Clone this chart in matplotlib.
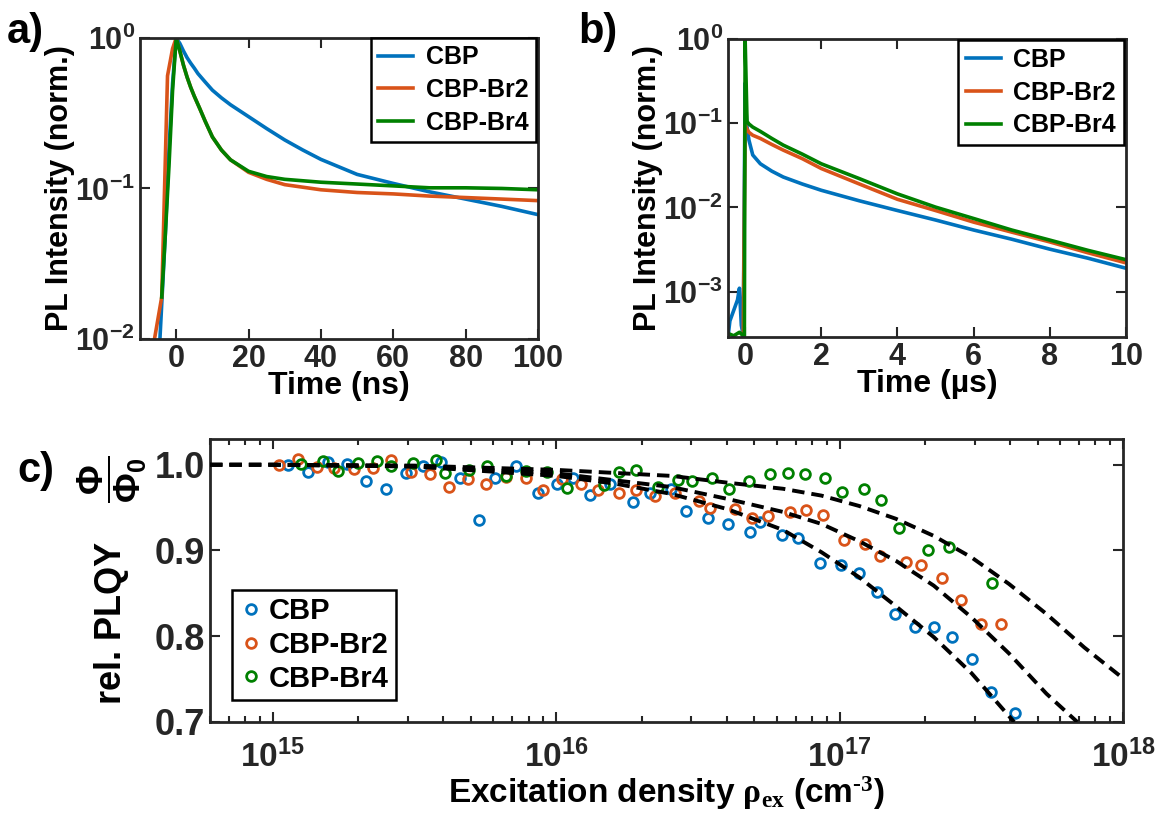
import matplotlib
matplotlib.use('Agg')
import matplotlib.pyplot as plt
from matplotlib.ticker import NullLocator, FixedLocator, FormatStrFormatter, LogLocator

# ---- panel a: short time PL decay (ns) ----
t_cbp_a = [-5, -4.5, -3, -2, -1, 0, 1, 2, 3, 4, 5, 6, 8, 10, 12.5, 15, 20, 25, 30, 35, 40, 50, 60, 70, 80,
           90, 100]
pl_cbp_a = [0.006, 0.01, 0.05, 0.18, 0.5, 1.0, 0.92, 0.82, 0.74, 0.68, 0.63, 0.58, 0.51, 0.45, 0.40, 0.36,
            0.30, 0.25, 0.21, 0.18, 0.156, 0.124, 0.108, 0.095, 0.085, 0.076, 0.067]
t_br2_a = [-6, -4, -2.4, -1, 0, 1, 2, 3, 4, 5, 6.5, 8, 10, 12.5, 15, 20, 25, 30, 40, 50, 60, 70, 80, 90, 100]
pl_br2_a = [0.01, 0.019, 0.56, 0.85, 1.0, 0.82, 0.66, 0.55, 0.47, 0.41, 0.34, 0.28, 0.22, 0.18, 0.155, 0.128,
            0.115, 0.106, 0.098, 0.094, 0.092, 0.089, 0.087, 0.085, 0.083]
t_br4_a = [-4, -3, -2, -1, 0, 1, 2, 3, 4, 5, 6.5, 8, 10, 12.5, 15, 20, 25, 30, 40, 50, 60, 70, 80, 90, 100]
pl_br4_a = [0.019, 0.05, 0.14, 0.45, 1.0, 0.82, 0.66, 0.55, 0.47, 0.41, 0.34, 0.28, 0.22, 0.18, 0.155, 0.13,
            0.12, 0.115, 0.11, 0.107, 0.104, 0.101, 0.101, 0.1, 0.098]

# ---- panel b: long time PL decay (us) ----
t_cbp_b = [-0.45, -0.4, -0.3, -0.2, -0.15, -0.1, -0.05, 0, 0.02, 0.05, 0.1, 0.2, 0.4, 0.7, 1, 1.5, 2, 3, 4, 5,
           6, 7, 8, 9, 10]
pl_cbp_b = [2.9e-4, 4.5e-4, 6e-4, 8e-4, 1.1e-3, 4e-4, 3e-4, 0.3, 0.15, 0.09, 0.063, 0.042, 0.033, 0.027, 0.023,
            0.019, 0.016, 0.012, 0.0092, 0.0071, 0.0054, 0.0042, 0.0032, 0.0025, 0.0019]
t_br2_b = [-0.05, 0, 0.05, 0.1, 0.2, 0.4, 0.7, 1, 1.5, 2, 3, 4, 5, 6, 7, 8, 9, 10]
pl_br2_b = [3e-4, 0.095, 0.085, 0.078, 0.072, 0.066, 0.056, 0.048, 0.038, 0.029, 0.019, 0.0125, 0.0092, 0.0067,
            0.0051, 0.0039, 0.0029, 0.0022]
t_br4_b = [-0.45, -0.3, -0.15, -0.05, -0.02, 0, 0.05, 0.1, 0.2, 0.4, 0.7, 1, 1.5, 2, 3, 4, 5, 6, 7, 8, 9, 10]
pl_br4_b = [3.2e-4, 3e-4, 3.3e-4, 3e-4, 3e-4, 1.0, 0.105, 0.098, 0.09, 0.08, 0.066, 0.055, 0.043, 0.033, 0.022,
            0.0145, 0.0101, 0.0074, 0.0054, 0.0041, 0.0031, 0.0024]

# ---- panel c: relative PLQY vs excitation density ----
rho_cbp = [1.13e15, 1.33e15, 1.57e15, 1.82e15, 2.14e15, 2.51e15, 2.96e15, 3.38e15, 3.93e15, 4.58e15,
           5.36e15, 6.10e15, 7.24e15, 8.59e15, 1.01e16, 1.15e16, 1.32e16, 1.55e16, 1.86e16, 2.15e16,
           2.54e16, 2.88e16, 3.43e16, 4.03e16, 4.81e16, 5.25e16, 6.25e16, 7.14e16, 8.55e16, 1.01e17,
           1.17e17, 1.36e17, 1.57e17, 1.85e17, 2.15e17, 2.49e17, 2.94e17, 3.42e17, 4.17e17]
phi_cbp = [1.0, 0.991, 1.003, 1.001, 0.981, 0.972, 0.99, 0.999, 1.003, 0.985,
           0.936, 0.985, 0.999, 0.967, 0.978, 0.985, 0.965, 0.978, 0.956, 0.967,
           0.972, 0.946, 0.938, 0.931, 0.921, 0.933, 0.918, 0.914, 0.885, 0.883,
           0.874, 0.852, 0.826, 0.811, 0.811, 0.799, 0.774, 0.735, 0.711]
rho_br2 = [1.05e15, 1.23e15, 1.43e15, 1.65e15, 1.93e15, 2.25e15, 2.62e15, 3.08e15, 3.60e15, 4.18e15,
           4.90e15, 5.65e15, 6.65e15, 7.82e15, 8.95e15, 1.05e16, 1.22e16, 1.41e16, 1.67e16, 1.91e16,
           2.24e16, 2.63e16, 3.18e16, 3.49e16, 4.29e16, 4.91e16, 5.60e16, 6.67e16, 7.59e16, 8.75e16,
           1.04e17, 1.23e17, 1.39e17, 1.71e17, 1.93e17, 2.30e17, 2.69e17, 3.16e17, 3.72e17]
phi_br2 = [1.0, 1.007, 0.997, 0.996, 0.995, 0.996, 1.005, 0.992, 0.989, 0.974,
           0.983, 0.978, 0.986, 0.985, 0.971, 0.983, 0.978, 0.970, 0.967, 0.970,
           0.963, 0.967, 0.958, 0.950, 0.948, 0.938, 0.940, 0.945, 0.947, 0.941,
           0.912, 0.908, 0.893, 0.886, 0.883, 0.868, 0.842, 0.814, 0.814]
rho_br4 = [1.26e15, 1.50e15, 1.70e15, 2.00e15, 2.33e15, 2.62e15, 3.12e15, 3.75e15, 4.04e15, 4.94e15,
           5.70e15, 6.65e15, 7.82e15, 9.25e15, 1.09e16, 1.47e16, 1.67e16, 1.92e16, 2.28e16, 2.70e16,
           3.02e16, 3.54e16, 4.06e16, 4.79e16, 5.68e16, 6.56e16, 7.57e16, 8.89e16, 1.02e17, 1.22e17,
           1.40e17, 1.62e17, 2.05e17, 2.43e17, 3.46e17]
phi_br4 = [1.001, 1.004, 0.993, 1.002, 1.004, 0.998, 1.002, 1.005, 0.990, 0.994,
           0.998, 0.987, 0.993, 0.991, 0.973, 0.976, 0.991, 0.994, 0.974, 0.982,
           0.981, 0.985, 0.972, 0.981, 0.989, 0.990, 0.989, 0.984, 0.968, 0.972,
           0.959, 0.926, 0.900, 0.904, 0.862]

# fitted curves (dashed)
fit_rho_cbp = [6e14, 1e15, 3.16e15, 1e16, 1.61e16, 2.55e16, 4.04e16, 6.31e16, 8.63e16, 1.17e17, 1.58e17,
               2.15e17, 2.92e17, 4.13e17]
fit_cbp = [1.0, 1.0, 0.998, 0.987, 0.978, 0.966, 0.948, 0.924, 0.898, 0.869, 0.835, 0.799, 0.757, 0.70]
fit_rho_br2 = [6e14, 1e15, 3.16e15, 1e16, 2.55e16, 4.04e16, 6.31e16, 8.63e16, 1.17e17, 1.58e17, 2.15e17,
               2.92e17, 3.96e17, 5.37e17, 6.9e17]
fit_br2 = [1.0, 1.0, 0.998, 0.990, 0.974, 0.960, 0.945, 0.931, 0.911, 0.888, 0.859, 0.822, 0.780, 0.733, 0.70]
fit_rho_br4 = [6e14, 1e15, 3.16e15, 1e16, 2.55e16, 4.04e16, 6.31e16, 8.63e16, 1.17e17, 1.58e17, 2.15e17,
               2.92e17, 3.96e17, 5.37e17, 7.30e17, 1e18]
fit_br4 = [1.0, 1.0, 0.999, 0.994, 0.987, 0.979, 0.972, 0.964, 0.952, 0.937, 0.917, 0.892, 0.861, 0.826,
           0.787, 0.751]

labels = ['CBP', 'CBP-Br2', 'CBP-Br4']
colors = ['#0072BD', '#D95319', '#008000']

plt.rcParams['font.family'] = ['Liberation Sans', 'DejaVu Sans']
plt.rcParams['font.weight'] = 'bold'
plt.rcParams['axes.labelweight'] = 'bold'
plt.rcParams['axes.unicode_minus'] = False
plt.rcParams['mathtext.fontset'] = 'custom'
plt.rcParams['mathtext.rm'] = 'Liberation Serif'
plt.rcParams['mathtext.it'] = 'Liberation Serif:italic'
plt.rcParams['mathtext.bf'] = 'Liberation Serif:bold'

dark = '#262626'


def style(ax, size):
    for s in ax.spines.values():
        s.set_linewidth(2)
        s.set_color(dark)
    ax.tick_params(which='both', direction='in', top=True, right=True, labelsize=size,
                   color=dark, labelcolor=dark, width=1.5)
    ax.tick_params(which='major', length=7)
    ax.tick_params(which='minor', length=4)


def leg(ax, size, **kw):
    lg = ax.legend(fontsize=size, frameon=True, fancybox=False, edgecolor='black', framealpha=1,
                   borderaxespad=0, **kw)
    lg.get_frame().set_linewidth(1.8)
    return lg


fig = plt.figure(figsize=(11.62, 8.16), dpi=100)
ax_a = fig.add_axes([0.1205, 0.5846, 0.3425, 0.3689])
ax_b = fig.add_axes([0.6265, 0.587, 0.3425, 0.3652])
ax_c = fig.add_axes([0.1807, 0.1152, 0.7857, 0.3468])

# panel a
for t, v, lab, c in zip([t_cbp_a, t_br2_a, t_br4_a], [pl_cbp_a, pl_br2_a, pl_br4_a], labels, colors):
    ax_a.plot(t, v, color=c, lw=2.6, label=lab)
ax_a.set_yscale('log')
ax_a.set_xlim(-10, 100)
ax_a.set_ylim(1e-2, 1)
ax_a.xaxis.set_major_locator(FixedLocator([0, 20, 40, 60, 80, 100]))
ax_a.yaxis.set_minor_locator(NullLocator())
style(ax_a, 22)
ax_a.set_xlabel('Time (ns)', fontsize=23, labelpad=-2)
ax_a.set_ylabel('PL Intensity (norm.)', fontsize=22, labelpad=0)
leg(ax_a, 18, loc='upper right', bbox_to_anchor=(0.995, 1.0), handlelength=1.4, handletextpad=0.5,
    labelspacing=0.35, borderpad=0.3)

# panel b
for t, v, lab, c in zip([t_cbp_b, t_br2_b, t_br4_b], [pl_cbp_b, pl_br2_b, pl_br4_b], labels, colors):
    ax_b.plot(t, v, color=c, lw=2.6, label=lab)
ax_b.set_yscale('log')
ax_b.set_xlim(-0.45, 10)
ax_b.set_ylim(2.9e-4, 1)
ax_b.xaxis.set_major_locator(FixedLocator([0, 2, 4, 6, 8, 10]))
ax_b.yaxis.set_major_locator(FixedLocator([1e-3, 1e-2, 1e-1, 1]))
ax_b.yaxis.set_minor_locator(NullLocator())
style(ax_b, 22)
ax_b.set_xlabel('Time (µs)', fontsize=23, labelpad=-2)
ax_b.set_ylabel('PL Intensity (norm.)', fontsize=22, labelpad=0)
leg(ax_b, 18, loc='upper right', bbox_to_anchor=(0.994, 0.995), handlelength=1.4, handletextpad=0.5,
    labelspacing=0.35, borderpad=0.3)

# panel c
for r, p, lab, c in zip([rho_cbp, rho_br2, rho_br4], [phi_cbp, phi_br2, phi_br4], labels, colors):
    ax_c.plot(r, p, ls='none', marker='o', ms=7, mfc='none', mec=c, mew=2, label=lab, zorder=2)
for r, p in zip([fit_rho_cbp, fit_rho_br2, fit_rho_br4], [fit_cbp, fit_br2, fit_br4]):
    ax_c.plot(r, p, color='black', lw=2.8, ls=(0, (3.2, 1.8)), zorder=3)
ax_c.set_xscale('log')
ax_c.set_xlim(6e14, 1e18)
ax_c.set_ylim(0.7, 1.03)
ax_c.xaxis.set_major_locator(LogLocator(base=10, numticks=10))
ax_c.xaxis.set_minor_locator(LogLocator(base=10, subs=range(2, 10), numticks=10))
ax_c.yaxis.set_major_locator(FixedLocator([0.7, 0.8, 0.9, 1.0]))
ax_c.yaxis.set_major_formatter(FormatStrFormatter('%.1f'))
style(ax_c, 25)
ax_c.tick_params(axis='x', pad=13, labelsize=24)
ax_c.tick_params(axis='y', labelsize=26)
ax_c.set_xlabel(r'Excitation density $\mathrm{\rho_{ex}}$ (cm$^{\text{-3}}$)', fontsize=24, labelpad=0)
ax_c.set_ylabel(r'rel. PLQY    $\mathregular{\dfrac{\Phi}{\Phi_0}}$', fontsize=26, labelpad=4)
leg(ax_c, 21, loc='lower left', bbox_to_anchor=(0.024, 0.078), handlelength=0.8, handletextpad=0.2,
    labelspacing=0.2, borderpad=0.25)

fig.text(0.006, 0.985, 'a)', fontsize=30, weight='bold', va='top')
fig.text(0.498, 0.985, 'b)', fontsize=30, weight='bold', va='top')
fig.text(0.015, 0.447, 'c)', fontsize=30, weight='bold', va='top')

fig.savefig('out.png', dpi=100)
